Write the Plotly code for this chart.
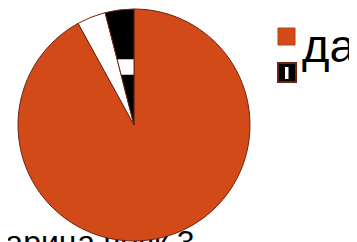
import plotly.graph_objects as go

W, H = 357, 242
OFF = 8  # page body margin offset

labels = ["да", "нет", "другое"]
values = [23, 1, 1]
colors = ["#D24A17", "#FFFFFF", "#000000"]
legend_labels = ["да", ""]
footer_text = "арица чеук 3"


def px(x):
    return (x - OFF) / W


def py(y):
    return 1 - (y - OFF) / H


fig = go.Figure()

# footer text sits behind the pie, so it is drawn as a text trace on hidden axes
fig.add_trace(go.Scatter(
    x=[100], y=[245], mode="text", text=[footer_text],
    textposition="middle center", hoverinfo="skip", showlegend=False,
    textfont=dict(family="Liberation Sans, Arial", size=32, color="#000000"),
    cliponaxis=False,
))

fig.add_trace(go.Pie(
    labels=labels,
    values=values,
    sort=False,
    direction="clockwise",
    rotation=0,
    textinfo="none",
    hoverinfo="label+percent",
    showlegend=False,
    marker=dict(
        colors=colors,
        line=dict(color="#6E2414", width=1),
        pattern=dict(shape=["", "", "-"],
                     fgcolor=["#D24A17", "#FFFFFF", "#FFFFFF"],
                     bgcolor=["#D24A17", "#FFFFFF", "#000000"],
                     fillmode="replace",
                     size=[8, 8, 118], solidity=[0.3, 0.3, 0.13]),
    ),
    domain=dict(x=[px(18), px(250)], y=[py(241), py(9)]),
))

shapes = [
    dict(type="rect", xref="paper", yref="paper",
         x0=px(278), x1=px(295), y0=py(45), y1=py(28),
         fillcolor=colors[0], line=dict(color="#B84015", width=1)),
    dict(type="rect", xref="paper", yref="paper",
         x0=px(278), x1=px(296), y0=py(82), y1=py(63),
         fillcolor="#000000", line=dict(color="#6E2414", width=2)),
    dict(type="rect", xref="paper", yref="paper",
         x0=px(285), x1=px(288.5), y0=py(79), y1=py(67),
         fillcolor="#FFFFFF", line=dict(width=0)),
]

annotations = [
    dict(text=legend_labels[0], xref="paper", yref="paper",
         x=px(300), y=py(45), xanchor="left", yanchor="middle",
         showarrow=False, font=dict(family="Liberation Sans, Arial", size=47, color="#000000")),
]

fig.update_layout(
    width=W, height=H,
    margin=dict(l=0, r=0, t=0, b=0),
    paper_bgcolor="#FFFFFF",
    plot_bgcolor="#FFFFFF",
    xaxis=dict(range=[OFF, W + OFF], visible=False, domain=[0, 1], fixedrange=True),
    yaxis=dict(range=[H + OFF, OFF], visible=False, domain=[0, 1], fixedrange=True),
    shapes=shapes,
    annotations=annotations,
    showlegend=False,
)

fig.write_html("out.html")
